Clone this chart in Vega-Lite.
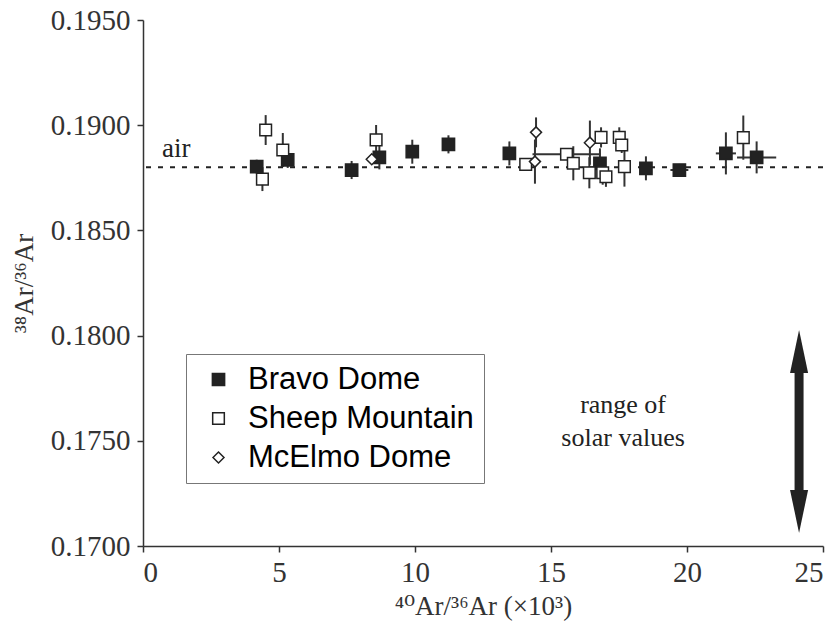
{
  "$schema": "https://vega.github.io/schema/vega-lite/v6.json",
  "width": 680,
  "height": 526,
  "autosize": "none",
  "padding": {"left": 143, "top": 20, "right": 14, "bottom": 85},
  "background": "white",
  "config": {
    "view": {"stroke": null},
    "axis": {
      "grid": false,
      "domainColor": "#333",
      "domainWidth": 1.5,
      "tickColor": "#333",
      "tickWidth": 1.5,
      "tickSize": 6,
      "labelFont": "Liberation Serif",
      "labelFontSize": 29,
      "labelColor": "#333",
      "titleFont": "Liberation Serif, DejaVu Serif",
      "titleFontSize": 27,
      "titleFontWeight": "normal",
      "titleColor": "#333"
    }
  },
  "datasets": {
    "pts": [
      {"site": "Bravo Dome", "x": 4.18, "y": 0.18803, "ylo": 0.18770, "yhi": 0.18836},
      {"site": "Bravo Dome", "x": 5.32, "y": 0.18835, "ylo": 0.18797, "yhi": 0.18873},
      {"site": "Bravo Dome", "x": 7.67, "y": 0.18787, "ylo": 0.18744, "yhi": 0.18830},
      {"site": "Bravo Dome", "x": 8.69, "y": 0.18847, "ylo": 0.18790, "yhi": 0.18904},
      {"site": "Bravo Dome", "x": 9.90, "y": 0.18874, "ylo": 0.18817, "yhi": 0.18931},
      {"site": "Bravo Dome", "x": 11.23, "y": 0.18909, "ylo": 0.18866, "yhi": 0.18952},
      {"site": "Bravo Dome", "x": 13.47, "y": 0.18866, "ylo": 0.18809, "yhi": 0.18923},
      {"site": "Bravo Dome", "x": 16.80, "y": 0.18819, "ylo": 0.18748, "yhi": 0.18890},
      {"site": "Bravo Dome", "x": 18.49, "y": 0.18795, "ylo": 0.18738, "yhi": 0.18852},
      {"site": "Bravo Dome", "x": 19.72, "y": 0.18787, "ylo": 0.18758, "yhi": 0.18816, "xlo": 19.39, "xhi": 20.05},
      {"site": "Bravo Dome", "x": 21.43, "y": 0.18866, "ylo": 0.18766, "yhi": 0.18966, "xlo": 21.06, "xhi": 21.80},
      {"site": "Bravo Dome", "x": 22.56, "y": 0.18847, "ylo": 0.18771, "yhi": 0.18923, "xlo": 21.84, "xhi": 23.28},
      {"site": "Sheep Mountain", "x": 4.39, "y": 0.18744, "ylo": 0.18687, "yhi": 0.18801},
      {"site": "Sheep Mountain", "x": 4.51, "y": 0.18977, "ylo": 0.18906, "yhi": 0.19048},
      {"site": "Sheep Mountain", "x": 5.14, "y": 0.18882, "ylo": 0.18801, "yhi": 0.18963},
      {"site": "Sheep Mountain", "x": 8.57, "y": 0.18930, "ylo": 0.18859, "yhi": 0.19001},
      {"site": "Sheep Mountain", "x": 14.07, "y": 0.18814},
      {"site": "Sheep Mountain", "x": 15.57, "y": 0.18862, "xlo": 14.32, "xhi": 16.82},
      {"site": "Sheep Mountain", "x": 15.82, "y": 0.18819, "ylo": 0.18738, "yhi": 0.18900},
      {"site": "Sheep Mountain", "x": 16.41, "y": 0.18774, "ylo": 0.18700, "yhi": 0.18848},
      {"site": "Sheep Mountain", "x": 16.84, "y": 0.18942, "ylo": 0.18894, "yhi": 0.18990},
      {"site": "Sheep Mountain", "x": 16.90, "y": 0.18774, "ylo": 0.18717, "yhi": 0.18831},
      {"site": "Sheep Mountain", "x": 17.02, "y": 0.18755, "ylo": 0.18707, "yhi": 0.18803},
      {"site": "Sheep Mountain", "x": 17.51, "y": 0.18942, "ylo": 0.18894, "yhi": 0.18990},
      {"site": "Sheep Mountain", "x": 17.60, "y": 0.18906, "ylo": 0.18868, "yhi": 0.18944},
      {"site": "Sheep Mountain", "x": 17.70, "y": 0.18803, "ylo": 0.18708, "yhi": 0.18898},
      {"site": "Sheep Mountain", "x": 22.07, "y": 0.18941, "ylo": 0.18836, "yhi": 0.19046},
      {"site": "McElmo Dome", "x": 8.41, "y": 0.18838},
      {"site": "McElmo Dome", "x": 14.45, "y": 0.18966, "ylo": 0.18895, "yhi": 0.19037},
      {"site": "McElmo Dome", "x": 14.41, "y": 0.18827, "ylo": 0.18722, "yhi": 0.18932},
      {"site": "McElmo Dome", "x": 16.43, "y": 0.18917, "ylo": 0.18812, "yhi": 0.19022}
    ]
  },
  "layer": [
    {
      "data": {"values": [{"y": 0.188, "label": "air"}]},
      "mark": {"type": "rule", "strokeDash": [5, 7], "strokeWidth": 2, "color": "#222"},
      "encoding": {"y": {"field": "y", "type": "quantitative", "scale": {"domain": [0.17, 0.195], "nice": false, "zero": false}, "title": "³⁸Ar/³⁶Ar"}}
    },
    {
      "data": {"values": [{"x": 0.7, "y": 0.18849, "label": "air"}]},
      "mark": {"type": "text", "align": "left", "baseline": "alphabetic", "font": "Liberation Serif", "fontSize": 27, "color": "#222"},
      "encoding": {
        "x": {"field": "x", "type": "quantitative", "scale": {"domain": [0, 25], "nice": false}, "title": "⁴⁰Ar/³⁶Ar (×10³)"},
        "y": {"field": "y", "type": "quantitative", "scale": {"domain": [0.17, 0.195], "nice": false, "zero": false}, "title": "³⁸Ar/³⁶Ar"},
        "text": {"field": "label"}
      }
    },
    {
      "data": {"name": "pts"},
      "transform": [{"filter": "isValid(datum.ylo)"}],
      "mark": {"type": "rule", "strokeWidth": 2, "color": "#333"},
      "encoding": {
        "x": {"field": "x", "type": "quantitative", "scale": {"domain": [0, 25], "nice": false}, "title": "⁴⁰Ar/³⁶Ar (×10³)"},
        "y": {"field": "ylo", "type": "quantitative", "scale": {"domain": [0.17, 0.195], "nice": false, "zero": false}, "title": "³⁸Ar/³⁶Ar"},
        "y2": {"field": "yhi"}
      }
    },
    {
      "data": {"name": "pts"},
      "transform": [{"filter": "isValid(datum.xlo)"}],
      "mark": {"type": "rule", "strokeWidth": 2, "color": "#333"},
      "encoding": {
        "x": {"field": "xlo", "type": "quantitative", "scale": {"domain": [0, 25], "nice": false}, "title": "⁴⁰Ar/³⁶Ar (×10³)"},
        "x2": {"field": "xhi"},
        "y": {"field": "y", "type": "quantitative", "scale": {"domain": [0.17, 0.195], "nice": false, "zero": false}, "title": "³⁸Ar/³⁶Ar"}
      }
    },
    {
      "data": {"name": "pts"},
      "mark": {"type": "point", "filled": true, "stroke": "#222", "strokeWidth": 1.5, "opacity": 1},
      "encoding": {
        "x": {"field": "x", "type": "quantitative", "scale": {"domain": [0, 25], "nice": false},
              "axis": {"values": [0, 5, 10, 15, 20, 25], "labelPadding": 6, "titlePadding": 6},
              "title": "⁴⁰Ar/³⁶Ar (×10³)"},
        "y": {"field": "y", "type": "quantitative", "scale": {"domain": [0.17, 0.195], "nice": false, "zero": false},
              "axis": {"values": [0.17, 0.175, 0.18, 0.185, 0.19, 0.195], "format": ".4f", "labelPadding": 7, "titlePadding": 12},
              "title": "³⁸Ar/³⁶Ar"},
        "shape": {"field": "site", "type": "nominal",
                  "scale": {"domain": ["Bravo Dome", "Sheep Mountain", "McElmo Dome"], "range": ["square", "square", "diamond"]},
                  "legend": {"title": null, "orient": "none", "legendX": 43, "legendY": 334,
                             "labelFont": "Liberation Sans", "labelFontSize": 31, "labelColor": "#000", "labelLimit": 0,
                             "strokeColor": "#777", "fillColor": "white", "padding": 10,
                             "rowPadding": 7, "symbolOffset": 7, "labelOffset": 14,
                             "symbolStrokeColor": "#222", "symbolStrokeWidth": 1.5}},
        "fill": {"field": "site", "type": "nominal",
                 "scale": {"domain": ["Bravo Dome", "Sheep Mountain", "McElmo Dome"], "range": ["#222222", "#ffffff", "#ffffff"]}},
        "size": {"field": "site", "type": "nominal",
                 "scale": {"domain": ["Bravo Dome", "Sheep Mountain", "McElmo Dome"], "range": [150, 121, 225]}}
      }
    },
    {
      "data": {"values": [{"x": 17.65, "y": 0.17670, "label": "range of"}, {"x": 17.65, "y": 0.17513, "label": "solar values"}]},
      "mark": {"type": "text", "align": "center", "baseline": "middle", "font": "Liberation Serif", "fontSize": 26, "color": "#222"},
      "encoding": {
        "x": {"field": "x", "type": "quantitative", "scale": {"domain": [0, 25], "nice": false}, "title": "⁴⁰Ar/³⁶Ar (×10³)"},
        "y": {"field": "y", "type": "quantitative", "scale": {"domain": [0.17, 0.195], "nice": false, "zero": false}, "title": "³⁸Ar/³⁶Ar"},
        "text": {"field": "label"}
      }
    },
    {
      "data": {"values": [{"x": 24.12, "y": 0.1790, "y2": 0.1720}]},
      "mark": {"type": "rule", "strokeWidth": 9, "color": "#222"},
      "encoding": {
        "x": {"field": "x", "type": "quantitative", "scale": {"domain": [0, 25], "nice": false}, "title": "⁴⁰Ar/³⁶Ar (×10³)"},
        "y": {"field": "y", "type": "quantitative", "scale": {"domain": [0.17, 0.195], "nice": false, "zero": false}, "title": "³⁸Ar/³⁶Ar"},
        "y2": {"field": "y2"}
      }
    },
    {
      "data": {"values": [{"x": 24.12, "y": 0.18027, "end": "top"}]},
      "mark": {"type": "point", "shape": "M0,0L0.42,2L-0.42,2Z", "size": 1849, "filled": true, "color": "#222", "opacity": 1},
      "encoding": {
        "x": {"field": "x", "type": "quantitative", "scale": {"domain": [0, 25], "nice": false}, "title": "⁴⁰Ar/³⁶Ar (×10³)"},
        "y": {"field": "y", "type": "quantitative", "scale": {"domain": [0.17, 0.195], "nice": false, "zero": false}, "title": "³⁸Ar/³⁶Ar"}
      }
    },
    {
      "data": {"values": [{"x": 24.12, "y": 0.17062, "end": "bottom"}]},
      "mark": {"type": "point", "shape": "M0,0L0.42,-2L-0.42,-2Z", "size": 1849, "filled": true, "color": "#222", "opacity": 1},
      "encoding": {
        "x": {"field": "x", "type": "quantitative", "scale": {"domain": [0, 25], "nice": false}, "title": "⁴⁰Ar/³⁶Ar (×10³)"},
        "y": {"field": "y", "type": "quantitative", "scale": {"domain": [0.17, 0.195], "nice": false, "zero": false}, "title": "³⁸Ar/³⁶Ar"}
      }
    }
  ]
}
